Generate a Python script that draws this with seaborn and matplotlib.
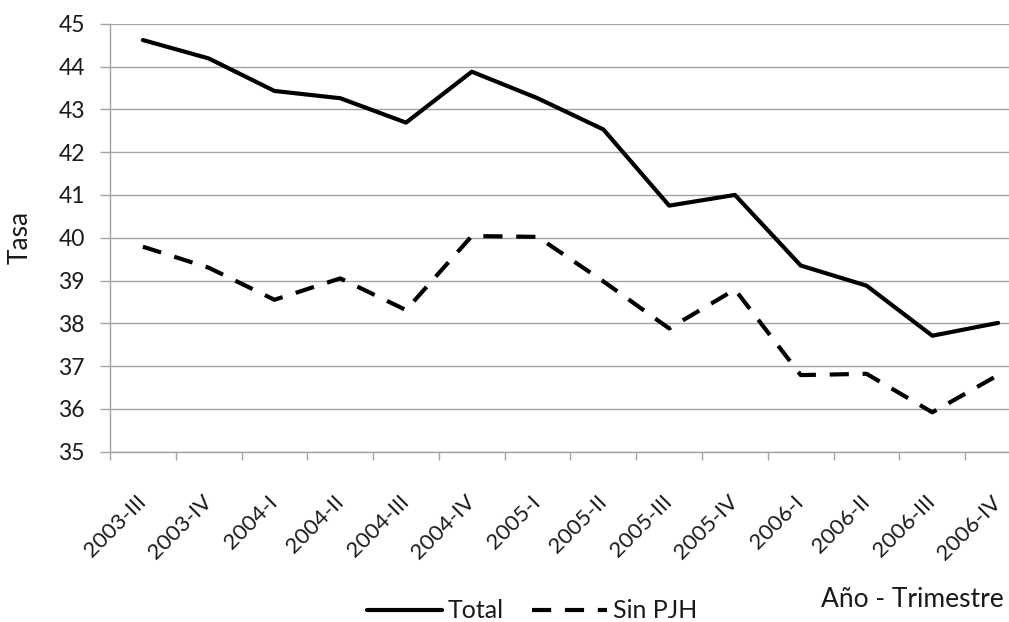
import numpy as np
import pandas as pd
import matplotlib
matplotlib.use("Agg")
import matplotlib.pyplot as plt
import seaborn as sns

# quarters and rates
periodos = ["2003-III", "2003-IV", "2004-I", "2004-II", "2004-III", "2004-IV",
            "2005-I", "2005-II", "2005-III", "2005-IV", "2006-I", "2006-II",
            "2006-III", "2006-IV"]
total = [44.62, 44.19, 43.43, 43.26, 42.69, 43.88, 43.26, 42.53, 40.75,
         41.00, 39.35, 38.88, 37.71, 38.01]
sin_pjh = [39.79, 39.30, 38.55, 39.05, 38.31, 40.04, 40.02, 38.98, 37.88,
           38.79, 36.79, 36.82, 35.92, 36.79]
series = ["Total", "Sin PJH"]
y_ticks = list(range(35, 46))

df = pd.DataFrame({
    "periodo": periodos * 2,
    "tasa": total + sin_pjh,
    "serie": [series[0]] * len(total) + [series[1]] * len(sin_pjh),
})

GRID = "#a3a3a3"
TXT = "#1a1a1a"

sns.set_style("whitegrid", {"grid.color": GRID, "axes.edgecolor": GRID})
plt.rcParams["font.family"] = ["Lato", "DejaVu Sans"]

fig = plt.figure(figsize=(10.09, 6.22), dpi=100)
# plot area runs past the right edge, as in the original crop
ax = fig.add_axes([0.109, 0.2738, 0.9128, 0.688])

sns.lineplot(data=df, x="periodo", y="tasa", style="serie", style_order=series,
             dashes={"Total": "", "Sin PJH": (4.6, 3.3)}, color="black",
             linewidth=3.0, errorbar=None, sort=False, ax=ax)

ax.set_xlim(-0.5, len(periodos) - 0.5)
ax.set_ylim(y_ticks[0], y_ticks[-1])
ax.set_yticks(y_ticks)
ax.set_xticks(range(len(periodos)))
ax.set_xticklabels(periodos, rotation=45, ha="right", va="center",
                   rotation_mode="anchor")
ax.set_xticks(np.arange(len(periodos) + 1) - 0.5, minor=True)

ax.xaxis.grid(False)
ax.yaxis.grid(True, color=GRID, linewidth=1.0)
for s in ["top", "right"]:
    ax.spines[s].set_visible(False)
for s in ["left", "bottom"]:
    ax.spines[s].set_color(GRID)
    ax.spines[s].set_linewidth(1.0)

ax.tick_params(axis="x", which="major", bottom=False, length=0, pad=34,
               labelsize=16, labelcolor=TXT)
ax.tick_params(axis="x", which="minor", bottom=True, length=5.5, width=1.0,
               color=GRID)
ax.tick_params(axis="y", left=True, length=7, width=1.0, color=GRID, pad=11,
               labelsize=16.5, labelcolor=TXT)

ax.set_ylabel("Tasa", fontsize=19, color=TXT)
ax.yaxis.set_label_coords(-0.0836, 0.5)
ax.set_xlabel("Año - Trimestre", fontsize=19, color=TXT, ha="right",
              va="baseline")
ax.xaxis.set_label_coords((1004 - 110) / 921, -0.363)

handles, labels = ax.get_legend_handles_labels()
ax.legend(handles, labels, loc="center", bbox_to_anchor=(532 / 1009, 11 / 622),
          bbox_transform=fig.transFigure, ncol=2, frameon=False, fontsize=18,
          handlelength=3.0, handletextpad=0.25, columnspacing=1.1,
          labelcolor=TXT)

fig.savefig("out.png", dpi=100)
